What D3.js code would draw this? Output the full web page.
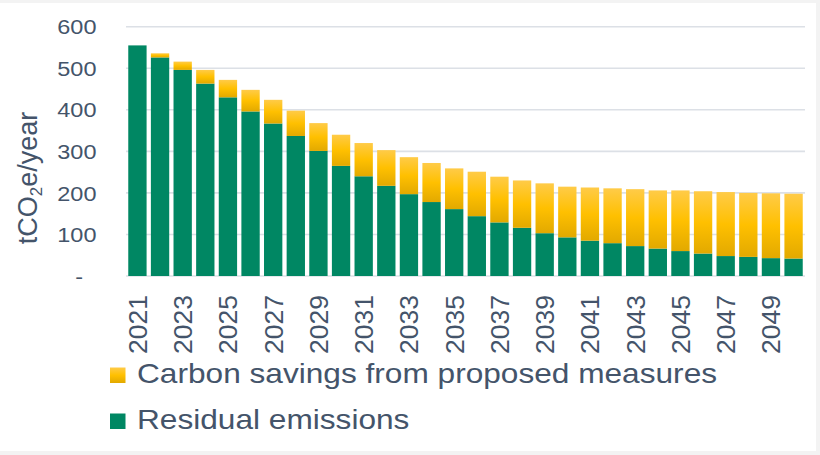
<!DOCTYPE html>
<html>
<head>
<meta charset="utf-8">
<script src="https://cdn.jsdelivr.net/npm/d3@7"></script>
<style>
  html, body { margin: 0; padding: 0; background: #f3f3f3; }
  svg { display: block; }
  text { font-family: "Liberation Sans", Arial, sans-serif; fill: #44546A; }
</style>
</head>
<body>
<svg id="chart" width="820" height="455"></svg>
<script>
// Annual emissions trajectory, tCO2e/year
const years = [2021, 2022, 2023, 2024, 2025, 2026, 2027, 2028, 2029, 2030,
               2031, 2032, 2033, 2034, 2035, 2036, 2037, 2038, 2039, 2040,
               2041, 2042, 2043, 2044, 2045, 2046, 2047, 2048, 2049, 2050];
const residualEmissions = [555, 526, 496, 463, 430, 396, 367, 337, 301, 265,
                           240, 217, 197, 178, 161, 144, 129, 116, 103, 93,
                           85, 79, 72, 66, 60, 54, 48, 46, 43, 42];
const carbonSavings = [0, 10, 20, 33, 42, 52, 57, 61, 67, 75,
                       80, 86, 89, 94, 98, 107, 110, 114, 120, 122,
                       128, 132, 137, 140, 146, 150, 154, 154, 156, 156];
const yTicks = [0, 100, 200, 300, 400, 500, 600];
const xTickYears = [2021, 2023, 2025, 2027, 2029, 2031, 2033, 2035, 2037, 2039,
                    2041, 2043, 2045, 2047, 2049];
const seriesNames = ["Carbon savings from proposed measures", "Residual emissions"];

const svg = d3.select("#chart");

// page frame
svg.append("rect").attr("x", 0).attr("y", 3).attr("width", 816).attr("height", 448)
  .attr("fill", "#ffffff");

const defs = svg.append("defs");
const grad = defs.append("linearGradient").attr("id", "gold")
  .attr("x1", 0).attr("y1", 0).attr("x2", 0).attr("y2", 1);
grad.append("stop").attr("offset", "0%").attr("stop-color", "#FFCB48");
grad.append("stop").attr("offset", "50%").attr("stop-color", "#FFC000");
grad.append("stop").attr("offset", "100%").attr("stop-color", "#E2A900");

const green = "#008763";

const x = d3.scaleBand().domain(years).range([126, 805])
  .paddingInner(0.19).paddingOuter(0.1);
const y = d3.scaleLinear().domain([0, 600]).range([276, 26.7]);

// gridlines
svg.append("g")
  .selectAll("line").data(yTicks).join("line")
  .attr("x1", 126).attr("x2", 805)
  .attr("y1", d => y(d)).attr("y2", d => y(d))
  .attr("stroke", "#DCE0E6").attr("stroke-width", 1.6);

// y axis labels
const yAxis = svg.append("g").attr("transform", "translate(126,0)")
  .call(d3.axisLeft(y).tickValues(yTicks).tickSize(0)
    .tickFormat(d => d === 0 ? "-" : d3.format("d")(d)));
yAxis.select(".domain").remove();
yAxis.selectAll("text")
  .attr("x", 0).attr("dy", "0.34em")
  .attr("font-size", 21)
  .attr("fill", "#44546A")
  .style("font-family", "'Liberation Sans', Arial, sans-serif")
  .attr("transform", d => d === 0 ? "translate(-43,0) scale(1.12,1)" : "translate(-29.5,0) scale(1.12,1)");

// stacked bars
const rows = years.map((yr, i) => ({ year: yr, residual: residualEmissions[i], savings: carbonSavings[i] }));
const stack = d3.stack().keys(["residual", "savings"])(rows);
const fills = { residual: green, savings: "url(#gold)" };

svg.append("g").selectAll("g").data(stack).join("g")
  .attr("fill", s => fills[s.key])
  .selectAll("rect").data(s => s.filter(d => d[1] > d[0])).join("rect")
  .attr("x", d => x(d.data.year))
  .attr("width", x.bandwidth())
  .attr("y", d => y(d[1]))
  .attr("height", d => y(d[0]) - y(d[1]));

// x axis labels, every second year
const xAxis = svg.append("g").attr("transform", "translate(0,276)")
  .call(d3.axisBottom(x).tickValues(xTickYears).tickSize(0).tickFormat(d3.format("d")));
xAxis.select(".domain").remove();
xAxis.selectAll("text")
  .attr("x", 0).attr("y", 0).attr("dy", "0.36em")
  .attr("text-anchor", "end")
  .attr("font-size", 26.5)
  .attr("fill", "#44546A")
  .style("font-family", "'Liberation Sans', Arial, sans-serif")
  .attr("transform", "translate(0,19) rotate(-90)");

// y axis title
const title = svg.append("text")
  .attr("transform", "translate(37,178) rotate(-90)")
  .attr("text-anchor", "middle")
  .attr("font-size", 27);
title.append("tspan").text("tCO");
title.append("tspan").attr("font-size", 17).attr("dy", 5).text("2");
title.append("tspan").attr("dy", -5).text("e/year");

// legend
const legend = svg.append("g");
const legendItems = [
  { name: seriesNames[0], fill: "url(#gold)", y: 383 },
  { name: seriesNames[1], fill: green, y: 429 }
];
legend.selectAll("rect").data(legendItems).join("rect")
  .attr("x", 110).attr("y", d => d.y - 15.5)
  .attr("width", 15.5).attr("height", 15.5)
  .attr("fill", d => d.fill);
legend.selectAll("text").data(legendItems).join("text")
  .attr("transform", d => `translate(137,${d.y}) scale(1.13,1)`)
  .attr("font-size", 28)
  .text(d => d.name);
</script>
</body>
</html>
